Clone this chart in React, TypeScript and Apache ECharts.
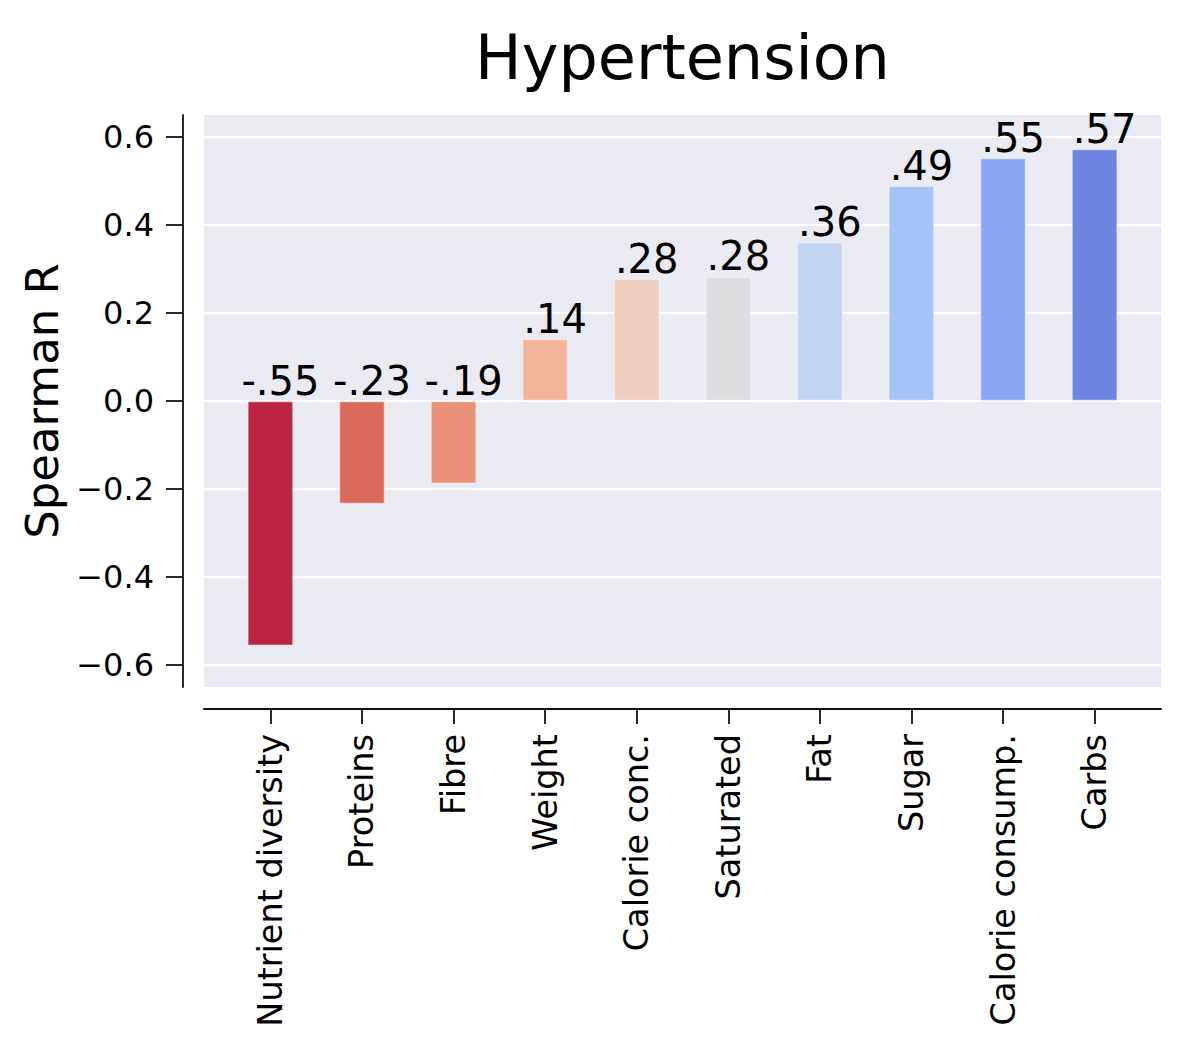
import React, { useEffect, useRef } from "react";
import * as echarts from "echarts";

const categories = [
  "Nutrient diversity",
  "Proteins",
  "Fibre",
  "Weight",
  "Calorie conc.",
  "Saturated",
  "Fat",
  "Sugar",
  "Calorie consump.",
  "Carbs",
];
const values = [-0.556, -0.234, -0.188, 0.141, 0.278, 0.283, 0.361, 0.489, 0.552, 0.573];
const valueLabels = ["-.55", "-.23", "-.19", ".14", ".28", ".28", ".36", ".49", ".55", ".57"];
const barColors = [
  "#BB2443",
  "#D96A5B",
  "#EB9179",
  "#F4B49C",
  "#EDCEBF",
  "#DCDDDE",
  "#C3D4F1",
  "#A5C3F9",
  "#89A8F3",
  "#6C84E0",
];
const yTicks = [-0.6, -0.4, -0.2, 0, 0.2, 0.4, 0.6];
const title = "Hypertension";
const yName = "Spearman R";

const FONT = "DejaVu Sans";

export default function App() {
  const ref = useRef<HTMLDivElement>(null);
  useEffect(() => {
    document.body.style.margin = "0";
    const chart = echarts.init(ref.current!, null, { renderer: "svg" });
    const idx = categories.map((_, i) => i);
    chart.setOption({
      animation: false,
      backgroundColor: "#ffffff",
      title: {
        text: title,
        left: 682.5,
        top: 26,
        textAlign: "center",
        padding: 0,
        textStyle: { fontFamily: FONT, fontSize: 62, fontWeight: "normal", color: "#000" },
      },
      grid: {
        left: 204,
        right: 39,
        top: 115,
        bottom: 363,
        show: true,
        backgroundColor: "#EAEAF2",
        borderWidth: 0,
      },
      xAxis: {
        type: "value",
        min: -0.725,
        max: 9.725,
        offset: 22,
        axisLine: { show: true, onZero: false, lineStyle: { color: "#111", width: 1.8 } },
        axisTick: {
          show: true,
          length: 15,
          customValues: idx,
          lineStyle: { color: "#111", width: 1.8 },
        },
        splitLine: { show: false },
        axisLabel: {
          customValues: idx,
          rotate: 90,
          margin: 25,
          fontFamily: FONT,
          fontSize: 33.5,
          color: "#000",
          formatter: (v: number) => categories[Math.round(v)] ?? "",
        },
      },
      yAxis: {
        type: "value",
        min: -0.65,
        max: 0.65,
        offset: 21,
        name: yName,
        nameLocation: "middle",
        nameRotate: 90,
        nameGap: 118,
        nameTextStyle: { fontFamily: FONT, fontSize: 45, color: "#000" },
        axisLine: { show: true, onZero: false, lineStyle: { color: "#111", width: 1.8 } },
        axisTick: {
          show: true,
          length: 17,
          customValues: yTicks,
          lineStyle: { color: "#111", width: 1.8 },
        },
        splitLine: { show: true, lineStyle: { color: "#ffffff", width: 1.8 } },
        axisLabel: {
          customValues: yTicks,
          margin: 29,
          fontFamily: FONT,
          fontSize: 32,
          color: "#000",
          formatter: (v: number) => {
            const s = Math.abs(v).toFixed(1);
            return v < -1e-9 ? "\u2212" + s : s;
          },
        },
      },
      series: [
        {
          type: "bar",
          barWidth: 46,
          data: values.map((v, i) => ({
            value: [i, v],
            itemStyle: {
              color: barColors[i],
              borderColor: "rgba(255,255,255,0.3)",
              borderWidth: 1.5,
            },
          })),
        },
        {
          type: "scatter",
          symbolSize: 0,
          z: 5,
          itemStyle: { opacity: 1 },
          data: values.map((v, i) => [i, Math.max(v, 0), i]),
          label: {
            show: true,
            position: "top",
            distance: 0,
            offset: [10, 0],
            fontFamily: FONT,
            fontSize: 40,
            color: "#000",
            opacity: 1,
            formatter: (p: any) => valueLabels[p.value[2]],
          },
        },
      ],
    });
    return () => chart.dispose();
  }, []);
  return <div ref={ref} style={{ width: 1200, height: 1050 }} />;
}
